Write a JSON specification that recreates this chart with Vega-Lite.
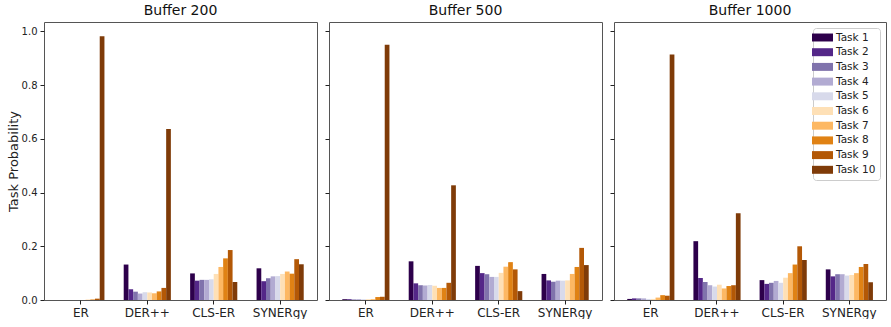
{
  "$schema": "https://vega.github.io/schema/vega-lite/v6.json",
  "padding": {"left": 6, "top": 3, "right": 0, "bottom": 0},
  "config": {
    "font": "DejaVu Sans",
    "view": {"stroke": "#555", "strokeWidth": 1},
    "axis": {"tickColor": "#222", "labelColor": "#222", "titleColor": "#222", "grid": false, "domain": false},
    "title": {"font": "DejaVu Sans", "fontSize": 14, "fontWeight": "normal", "color": "#111", "offset": 4}
  },
  "data": {"values": [
    {"buffer":"200","method":"ER","task":"Task 1","p":0.0},
    {"buffer":"200","method":"ER","task":"Task 2","p":0.0},
    {"buffer":"200","method":"ER","task":"Task 3","p":0.0},
    {"buffer":"200","method":"ER","task":"Task 4","p":0.0},
    {"buffer":"200","method":"ER","task":"Task 5","p":0.0},
    {"buffer":"200","method":"ER","task":"Task 6","p":0.0},
    {"buffer":"200","method":"ER","task":"Task 7","p":0.001},
    {"buffer":"200","method":"ER","task":"Task 8","p":0.002},
    {"buffer":"200","method":"ER","task":"Task 9","p":0.005},
    {"buffer":"200","method":"ER","task":"Task 10","p":0.982},
    {"buffer":"200","method":"DER++","task":"Task 1","p":0.132},
    {"buffer":"200","method":"DER++","task":"Task 2","p":0.04},
    {"buffer":"200","method":"DER++","task":"Task 3","p":0.031},
    {"buffer":"200","method":"DER++","task":"Task 4","p":0.024},
    {"buffer":"200","method":"DER++","task":"Task 5","p":0.029},
    {"buffer":"200","method":"DER++","task":"Task 6","p":0.028},
    {"buffer":"200","method":"DER++","task":"Task 7","p":0.025},
    {"buffer":"200","method":"DER++","task":"Task 8","p":0.032},
    {"buffer":"200","method":"DER++","task":"Task 9","p":0.045},
    {"buffer":"200","method":"DER++","task":"Task 10","p":0.637},
    {"buffer":"200","method":"CLS-ER","task":"Task 1","p":0.099},
    {"buffer":"200","method":"CLS-ER","task":"Task 2","p":0.072},
    {"buffer":"200","method":"CLS-ER","task":"Task 3","p":0.075},
    {"buffer":"200","method":"CLS-ER","task":"Task 4","p":0.075},
    {"buffer":"200","method":"CLS-ER","task":"Task 5","p":0.077},
    {"buffer":"200","method":"CLS-ER","task":"Task 6","p":0.097},
    {"buffer":"200","method":"CLS-ER","task":"Task 7","p":0.123},
    {"buffer":"200","method":"CLS-ER","task":"Task 8","p":0.155},
    {"buffer":"200","method":"CLS-ER","task":"Task 9","p":0.186},
    {"buffer":"200","method":"CLS-ER","task":"Task 10","p":0.067},
    {"buffer":"200","method":"SYNERgy","task":"Task 1","p":0.118},
    {"buffer":"200","method":"SYNERgy","task":"Task 2","p":0.07},
    {"buffer":"200","method":"SYNERgy","task":"Task 3","p":0.081},
    {"buffer":"200","method":"SYNERgy","task":"Task 4","p":0.088},
    {"buffer":"200","method":"SYNERgy","task":"Task 5","p":0.089},
    {"buffer":"200","method":"SYNERgy","task":"Task 6","p":0.097},
    {"buffer":"200","method":"SYNERgy","task":"Task 7","p":0.106},
    {"buffer":"200","method":"SYNERgy","task":"Task 8","p":0.098},
    {"buffer":"200","method":"SYNERgy","task":"Task 9","p":0.152},
    {"buffer":"200","method":"SYNERgy","task":"Task 10","p":0.133},
    {"buffer":"500","method":"ER","task":"Task 1","p":0.003},
    {"buffer":"500","method":"ER","task":"Task 2","p":0.003},
    {"buffer":"500","method":"ER","task":"Task 3","p":0.002},
    {"buffer":"500","method":"ER","task":"Task 4","p":0.003},
    {"buffer":"500","method":"ER","task":"Task 5","p":0.003},
    {"buffer":"500","method":"ER","task":"Task 6","p":0.003},
    {"buffer":"500","method":"ER","task":"Task 7","p":0.003},
    {"buffer":"500","method":"ER","task":"Task 8","p":0.011},
    {"buffer":"500","method":"ER","task":"Task 9","p":0.012},
    {"buffer":"500","method":"ER","task":"Task 10","p":0.95},
    {"buffer":"500","method":"DER++","task":"Task 1","p":0.144},
    {"buffer":"500","method":"DER++","task":"Task 2","p":0.062},
    {"buffer":"500","method":"DER++","task":"Task 3","p":0.055},
    {"buffer":"500","method":"DER++","task":"Task 4","p":0.054},
    {"buffer":"500","method":"DER++","task":"Task 5","p":0.056},
    {"buffer":"500","method":"DER++","task":"Task 6","p":0.053},
    {"buffer":"500","method":"DER++","task":"Task 7","p":0.045},
    {"buffer":"500","method":"DER++","task":"Task 8","p":0.045},
    {"buffer":"500","method":"DER++","task":"Task 9","p":0.064},
    {"buffer":"500","method":"DER++","task":"Task 10","p":0.427},
    {"buffer":"500","method":"CLS-ER","task":"Task 1","p":0.127},
    {"buffer":"500","method":"CLS-ER","task":"Task 2","p":0.1},
    {"buffer":"500","method":"CLS-ER","task":"Task 3","p":0.096},
    {"buffer":"500","method":"CLS-ER","task":"Task 4","p":0.086},
    {"buffer":"500","method":"CLS-ER","task":"Task 5","p":0.086},
    {"buffer":"500","method":"CLS-ER","task":"Task 6","p":0.101},
    {"buffer":"500","method":"CLS-ER","task":"Task 7","p":0.124},
    {"buffer":"500","method":"CLS-ER","task":"Task 8","p":0.141},
    {"buffer":"500","method":"CLS-ER","task":"Task 9","p":0.114},
    {"buffer":"500","method":"CLS-ER","task":"Task 10","p":0.033},
    {"buffer":"500","method":"SYNERgy","task":"Task 1","p":0.097},
    {"buffer":"500","method":"SYNERgy","task":"Task 2","p":0.073},
    {"buffer":"500","method":"SYNERgy","task":"Task 3","p":0.068},
    {"buffer":"500","method":"SYNERgy","task":"Task 4","p":0.072},
    {"buffer":"500","method":"SYNERgy","task":"Task 5","p":0.072},
    {"buffer":"500","method":"SYNERgy","task":"Task 6","p":0.073},
    {"buffer":"500","method":"SYNERgy","task":"Task 7","p":0.097},
    {"buffer":"500","method":"SYNERgy","task":"Task 8","p":0.123},
    {"buffer":"500","method":"SYNERgy","task":"Task 9","p":0.194},
    {"buffer":"500","method":"SYNERgy","task":"Task 10","p":0.13},
    {"buffer":"1000","method":"ER","task":"Task 1","p":0.004},
    {"buffer":"1000","method":"ER","task":"Task 2","p":0.006},
    {"buffer":"1000","method":"ER","task":"Task 3","p":0.006},
    {"buffer":"1000","method":"ER","task":"Task 4","p":0.006},
    {"buffer":"1000","method":"ER","task":"Task 5","p":0.004},
    {"buffer":"1000","method":"ER","task":"Task 6","p":0.004},
    {"buffer":"1000","method":"ER","task":"Task 7","p":0.009},
    {"buffer":"1000","method":"ER","task":"Task 8","p":0.018},
    {"buffer":"1000","method":"ER","task":"Task 9","p":0.016},
    {"buffer":"1000","method":"ER","task":"Task 10","p":0.914},
    {"buffer":"1000","method":"DER++","task":"Task 1","p":0.219},
    {"buffer":"1000","method":"DER++","task":"Task 2","p":0.082},
    {"buffer":"1000","method":"DER++","task":"Task 3","p":0.067},
    {"buffer":"1000","method":"DER++","task":"Task 4","p":0.055},
    {"buffer":"1000","method":"DER++","task":"Task 5","p":0.05},
    {"buffer":"1000","method":"DER++","task":"Task 6","p":0.057},
    {"buffer":"1000","method":"DER++","task":"Task 7","p":0.043},
    {"buffer":"1000","method":"DER++","task":"Task 8","p":0.052},
    {"buffer":"1000","method":"DER++","task":"Task 9","p":0.055},
    {"buffer":"1000","method":"DER++","task":"Task 10","p":0.323},
    {"buffer":"1000","method":"CLS-ER","task":"Task 1","p":0.074},
    {"buffer":"1000","method":"CLS-ER","task":"Task 2","p":0.06},
    {"buffer":"1000","method":"CLS-ER","task":"Task 3","p":0.064},
    {"buffer":"1000","method":"CLS-ER","task":"Task 4","p":0.071},
    {"buffer":"1000","method":"CLS-ER","task":"Task 5","p":0.064},
    {"buffer":"1000","method":"CLS-ER","task":"Task 6","p":0.083},
    {"buffer":"1000","method":"CLS-ER","task":"Task 7","p":0.1},
    {"buffer":"1000","method":"CLS-ER","task":"Task 8","p":0.132},
    {"buffer":"1000","method":"CLS-ER","task":"Task 9","p":0.2},
    {"buffer":"1000","method":"CLS-ER","task":"Task 10","p":0.149},
    {"buffer":"1000","method":"SYNERgy","task":"Task 1","p":0.114},
    {"buffer":"1000","method":"SYNERgy","task":"Task 2","p":0.088},
    {"buffer":"1000","method":"SYNERgy","task":"Task 3","p":0.096},
    {"buffer":"1000","method":"SYNERgy","task":"Task 4","p":0.096},
    {"buffer":"1000","method":"SYNERgy","task":"Task 5","p":0.091},
    {"buffer":"1000","method":"SYNERgy","task":"Task 6","p":0.093},
    {"buffer":"1000","method":"SYNERgy","task":"Task 7","p":0.1},
    {"buffer":"1000","method":"SYNERgy","task":"Task 8","p":0.123},
    {"buffer":"1000","method":"SYNERgy","task":"Task 9","p":0.134},
    {"buffer":"1000","method":"SYNERgy","task":"Task 10","p":0.066}
  ]},
  "spacing": 6,
  "resolve": {"legend": {"color": "independent"}},
  "hconcat": [
    {
      "width": 273, "height": 278,
      "title": {"text": "Buffer 200"},
      "transform": [{"filter": "datum.buffer === '200'"}],
      "mark": {"type": "bar"},
      "encoding": {
        "x": {"field": "method", "type": "nominal", "sort": ["ER","DER++","CLS-ER","SYNERgy"], "scale": {"paddingInner": 0.29, "paddingOuter": 0.2}, "axis": {"title": null, "labelAngle": 0, "labelFontSize": 12, "tickSize": 4, "labelPadding": 3}},
        "xOffset": {"field": "task", "type": "nominal", "sort": ["Task 1","Task 2","Task 3","Task 4","Task 5","Task 6","Task 7","Task 8","Task 9","Task 10"], "scale": {"paddingInner": 0, "paddingOuter": 0}},
        "y": {"field": "p", "type": "quantitative", "scale": {"domain": [0, 1.035], "nice": false}, "axis": {"title": "Task Probability", "titleFontSize": 13, "titleFontWeight": "normal", "titlePadding": 1, "values": [0, 0.2, 0.4, 0.6, 0.8, 1.0], "format": ".1f", "labelFontSize": 10, "tickSize": 4, "labelPadding": 3}},
        "color": {"field": "task", "type": "nominal", "scale": {"domain": ["Task 1","Task 2","Task 3","Task 4","Task 5","Task 6","Task 7","Task 8","Task 9","Task 10"], "range": ["#2d004b","#542788","#8073ac","#b2abd2","#d8daeb","#fee0b6","#fdb863","#e08214","#b35806","#7f3b08"]}, "legend": null}
      }
    },
    {
      "width": 273, "height": 278,
      "title": {"text": "Buffer 500"},
      "transform": [{"filter": "datum.buffer === '500'"}],
      "mark": {"type": "bar"},
      "encoding": {
        "x": {"field": "method", "type": "nominal", "sort": ["ER","DER++","CLS-ER","SYNERgy"], "scale": {"paddingInner": 0.29, "paddingOuter": 0.2}, "axis": {"title": null, "labelAngle": 0, "labelFontSize": 12, "tickSize": 4, "labelPadding": 3}},
        "xOffset": {"field": "task", "type": "nominal", "sort": ["Task 1","Task 2","Task 3","Task 4","Task 5","Task 6","Task 7","Task 8","Task 9","Task 10"], "scale": {"paddingInner": 0, "paddingOuter": 0}},
        "y": {"field": "p", "type": "quantitative", "scale": {"domain": [0, 1.035], "nice": false}, "axis": {"title": null, "values": [0, 0.2, 0.4, 0.6, 0.8, 1.0], "labels": false, "tickSize": 4}},
        "color": {"field": "task", "type": "nominal", "scale": {"domain": ["Task 1","Task 2","Task 3","Task 4","Task 5","Task 6","Task 7","Task 8","Task 9","Task 10"], "range": ["#2d004b","#542788","#8073ac","#b2abd2","#d8daeb","#fee0b6","#fdb863","#e08214","#b35806","#7f3b08"]}, "legend": null}
      }
    },
    {
      "width": 272, "height": 278,
      "title": {"text": "Buffer 1000"},
      "transform": [{"filter": "datum.buffer === '1000'"}],
      "mark": {"type": "bar"},
      "encoding": {
        "x": {"field": "method", "type": "nominal", "sort": ["ER","DER++","CLS-ER","SYNERgy"], "scale": {"paddingInner": 0.29, "paddingOuter": 0.2}, "axis": {"title": null, "labelAngle": 0, "labelFontSize": 12, "tickSize": 4, "labelPadding": 3}},
        "xOffset": {"field": "task", "type": "nominal", "sort": ["Task 1","Task 2","Task 3","Task 4","Task 5","Task 6","Task 7","Task 8","Task 9","Task 10"], "scale": {"paddingInner": 0, "paddingOuter": 0}},
        "y": {"field": "p", "type": "quantitative", "scale": {"domain": [0, 1.035], "nice": false}, "axis": {"title": null, "values": [0, 0.2, 0.4, 0.6, 0.8, 1.0], "labels": false, "tickSize": 4}},
        "color": {"field": "task", "type": "nominal", "scale": {"domain": ["Task 1","Task 2","Task 3","Task 4","Task 5","Task 6","Task 7","Task 8","Task 9","Task 10"], "range": ["#2d004b","#542788","#8073ac","#b2abd2","#d8daeb","#fee0b6","#fdb863","#e08214","#b35806","#7f3b08"]}, "legend": {"title": null, "orient": "top-right", "offset": 6, "padding": 4, "fillColor": "white", "strokeColor": "#ccc", "cornerRadius": 3, "labelFontSize": 10.5, "labelColor": "#222", "symbolType": "M-2,-0.76H2V0.76H-2Z", "symbolSize": 110, "symbolStrokeWidth": 0, "symbolOpacity": 1, "rowPadding": 3.7, "labelOffset": 8}}
      }
    }
  ]
}
